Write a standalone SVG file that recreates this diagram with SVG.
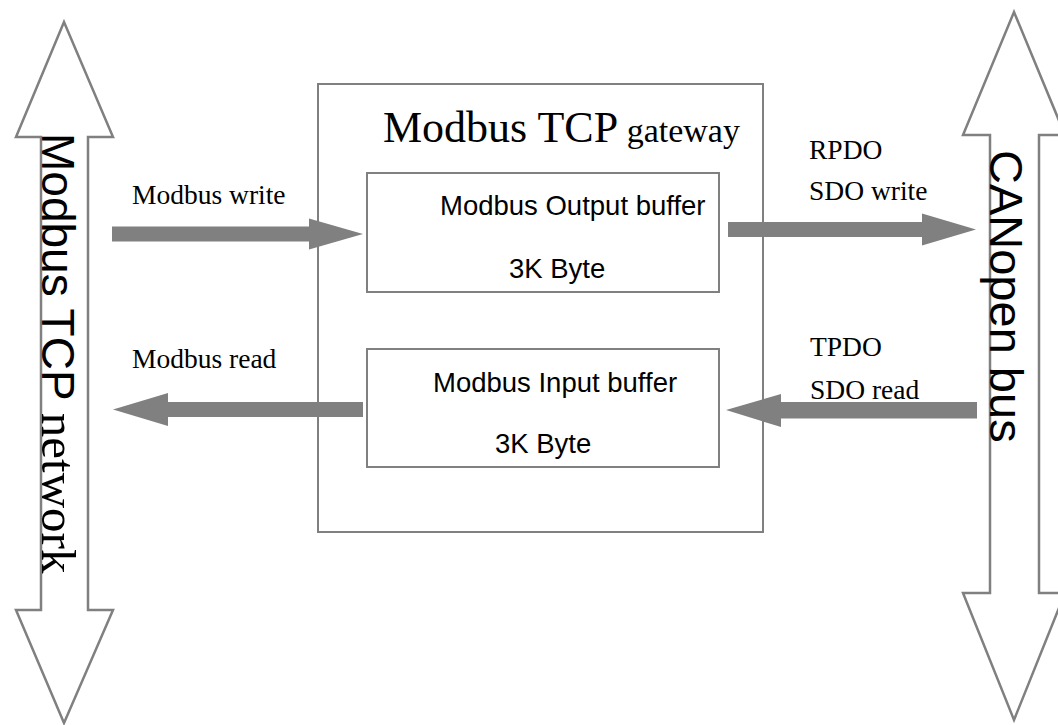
<svg xmlns="http://www.w3.org/2000/svg" width="1058" height="725" viewBox="0 0 1058 725">
<style>
.box{fill:#fff;stroke:#808080;stroke-width:2}
.bus{fill:#fff;stroke:#808080;stroke-width:2.5}
.arr{fill:#808080;stroke:none}
.serif{font-family:"Liberation Serif","Times New Roman",serif;fill:#000}
.sans{font-family:"Liberation Sans",Arial,sans-serif;fill:#000}
.lbl{font-size:27.5px}
</style>
<rect width="1058" height="725" fill="#fff"/>
<g id="modbus-tcp-network">
<polygon class="bus" points="64,22 113,137 88,137 88,610 113,610 64,723 16,610 41,610 41,137 16,137"/>
<text class="sans" font-size="46" transform="translate(42,133) rotate(90)">Modbus TCP<tspan class="serif" font-size="49"> network</tspan></text>
</g>
<g id="canopen-bus">
<polygon class="bus" points="1014,12 1065,135 1039,135 1039,593 1065,593 1014,720 963,593 990,593 990,135 963,135"/>
<text class="sans" font-size="47" transform="translate(990,150) rotate(90)">CANopen bus</text>
</g>
<g id="gateway">
<rect class="box" x="318" y="84" width="445" height="448"/>
<text class="serif" x="383" y="142" font-size="44">Modbus TCP<tspan font-size="34"> gateway</tspan></text>
</g>
<g id="output-buffer">
<rect class="box" x="367" y="173" width="352" height="119"/>
<text class="sans lbl" x="440" y="215">Modbus Output buffer</text>
<text class="sans lbl" x="509" y="278">3K Byte</text>
</g>
<g id="input-buffer">
<rect class="box" x="367" y="349" width="352" height="118"/>
<text class="sans lbl" x="433" y="392">Modbus Input buffer</text>
<text class="sans lbl" x="495" y="453">3K Byte</text>
</g>
<g id="connectors">
<polygon class="arr" points="112,226.5 309,226.5 309,218.5 363,234 309,249.5 309,241.5 112,241.5"/>
<polygon class="arr" points="728,222 922,222 922,213.5 976,229.5 922,245.5 922,237 728,237"/>
<polygon class="arr" points="977,402 781,402 781,394 726,410 781,427 781,418.5 977,418.5"/>
<polygon class="arr" points="363,402 168,402 168,393 113,409.5 168,426 168,417 363,417"/>
<text class="serif lbl" x="132" y="204">Modbus write</text>
<text class="serif lbl" x="132" y="368">Modbus read</text>
<text class="serif lbl" x="809" y="159">RPDO</text>
<text class="serif lbl" x="809" y="200">SDO write</text>
<text class="serif lbl" x="810" y="356">TPDO</text>
<text class="serif lbl" x="810" y="399">SDO read</text>
</g>
</svg>
